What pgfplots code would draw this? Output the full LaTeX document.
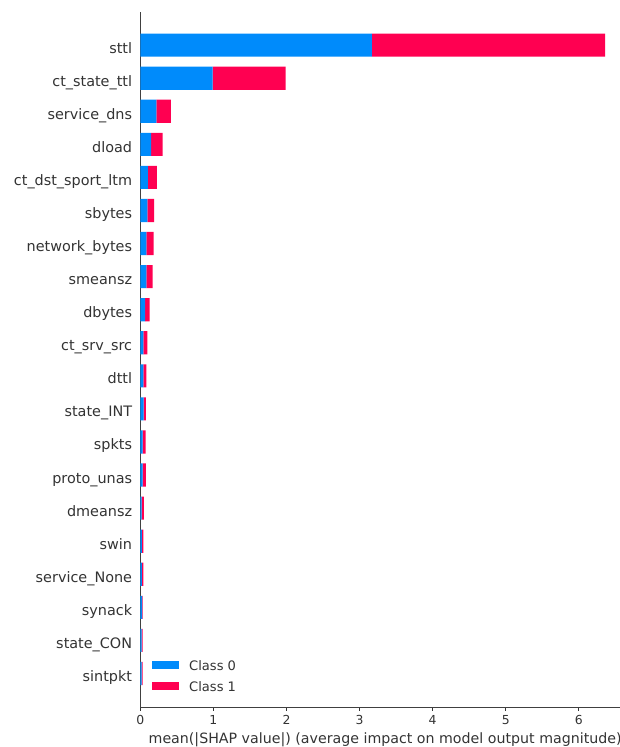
\documentclass[border=0pt]{standalone}
\usepackage{pgfplots}
\pgfplotsset{compat=1.18}
\usepackage{pgfplotstable}
\usepackage{fontspec}
\setmainfont{DejaVu Sans}
\definecolor{shapblue}{RGB}{0,139,251}
\definecolor{shapred}{RGB}{255,0,81}
\definecolor{txt}{HTML}{333333}

\pgfplotstableread{
idx c0 c1
0 0.018 0.014
1 0.018 0.014
2 0.027 0.005
3 0.023 0.018
4 0.023 0.018
5 0.018 0.032
6 0.031 0.047
7 0.031 0.042
8 0.045 0.033
9 0.041 0.041
10 0.041 0.055
11 0.068 0.060
12 0.082 0.087
13 0.082 0.100
14 0.096 0.094
15 0.105 0.123
16 0.150 0.155
17 0.220 0.200
18 0.990 1.000
19 3.170 3.190
}\shapdata

\begin{document}
\begin{tikzpicture}
\begin{axis}[
  at={(105.2pt,29.6pt)}, anchor=south west,
  scale only axis, width=367.3pt, height=521.6pt,
  xmin=0, xmax=6.7, ymin=-1.03, ymax=20,
  xbar stacked, bar width=0.7,
  axis lines*=left,
  axis line style={black!75, line width=0.6pt},
  xtick={0,1,2,3,4,5,6},
  ytick={0,...,19},
  yticklabels={sintpkt, state\_CON, synack, service\_None, swin, dmeansz, proto\_unas, spkts, state\_INT, dttl, ct\_srv\_src, dbytes, smeansz, network\_bytes, sbytes, ct\_dst\_sport\_ltm, dload, service\_dns, ct\_state\_ttl, sttl},
  tick align=outside,
  major tick length=2.6pt,
  xtick style={txt, line width=0.6pt},
  ytick style={draw=none},
  /pgf/number format/assume math mode=true,
  xticklabel style={font=\fontsize{9.3}{11}\selectfont, text=txt},
  yticklabel style={font=\fontsize{10.8}{12}\selectfont, text=txt, anchor=base east, yshift=-6.0pt},
  xlabel={mean(|SHAP value|) (average impact on model output magnitude)},
  xlabel style={font=\fontsize{10.65}{12}\selectfont, text=txt, at={(rel axis cs:0.5,0)}, anchor=base, yshift=-26.8pt},
  legend image code/.code={\fill[#1] (0pt,-3pt) rectangle (20pt,3pt);},
  legend style={draw=none, fill=none, at={(rel axis cs:0,0)}, anchor=south west,
    xshift=8.8pt, yshift=12pt, inner sep=0pt, row sep=8.5pt, column sep=7.7pt,
    font=\fontsize{9.8}{12}\selectfont, text=txt,
    nodes={inner sep=0pt, text height=7.3pt, text depth=0pt}},
  legend cell align=left,
]
\addplot[fill=shapblue, draw=none] table[x=c0, y=idx]{\shapdata};
\addlegendentry{Class 0}
\addplot[fill=shapred, draw=none] table[x=c1, y=idx]{\shapdata};
\addlegendentry{Class 1}
\end{axis}
\pgfresetboundingbox
\useasboundingbox (0pt,0pt) rectangle (465pt,560.25pt);
\end{tikzpicture}
\end{document}
